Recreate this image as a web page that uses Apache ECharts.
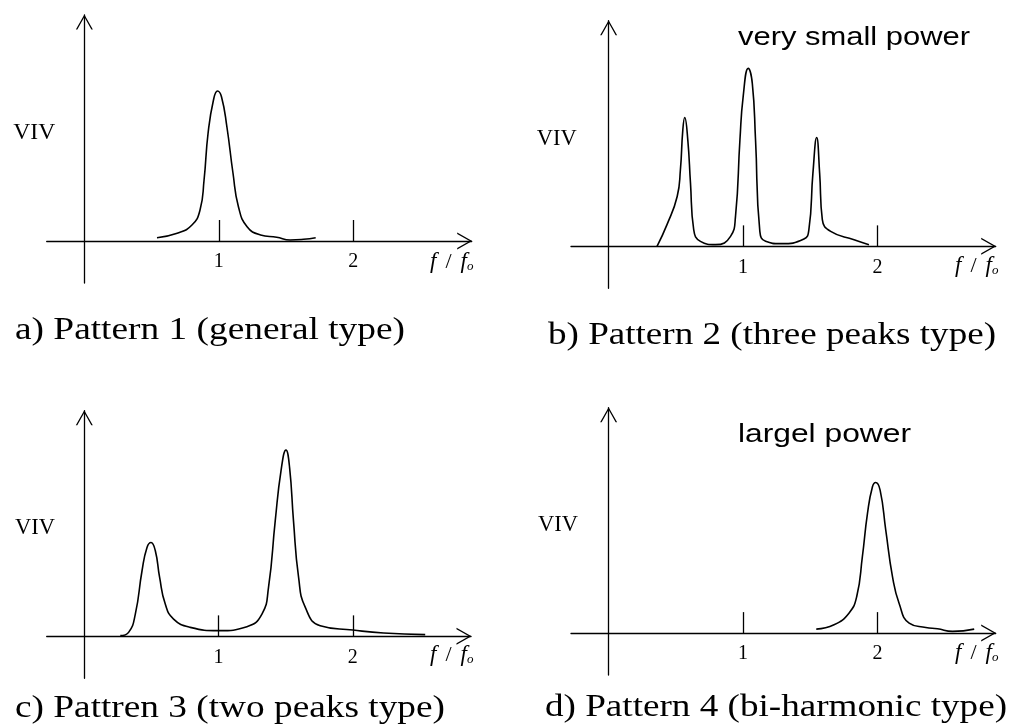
<!DOCTYPE html>
<html>
<head>
<meta charset="utf-8">
<script src="https://cdn.jsdelivr.net/npm/echarts@6/dist/echarts.min.js"></script>
<style>
  html, body { margin: 0; padding: 0; background: #fff; }
  #chart { width: 1011px; height: 726px; }
</style>
</head>
<body>
<div id="chart"></div>
<script>
// f/fo ticks shown on every panel
var tickValues = [1, 2];

// a) Pattern 1 (general type)
var fRatioA = [0.54, 0.69, 0.80, 0.86, 0.89, 0.92, 0.96, 0.99, 1.02, 1.06, 1.105, 1.146, 1.21, 1.31, 1.43, 1.53, 1.63, 1.72];
var vivA = [0.33, 0.77, 1.6, 3.1, 6.1, 10.8, 14.1, 15.0, 14.4, 11.4, 6.8, 3.4, 1.43, 0.6, 0.37, 0.1, 0.17, 0.33];

// b) Pattern 2 (three peaks type)
var fRatioB = [0.36, 0.435, 0.51, 0.534, 0.552, 0.566, 0.589, 0.609, 0.633, 0.683, 0.795, 0.907, 0.944, 0.977, 1.001, 1.039, 1.069, 1.093, 1.125, 1.168, 1.28, 1.453, 1.49, 1.52, 1.548, 1.57, 1.59, 1.652, 1.826, 1.937];
var vivB = [0, 2.2, 5.0, 7.67, 11.67, 12.9, 10.67, 6.33, 1.67, 0.5, 0.17, 1.0, 3.0, 10.67, 15.0, 17.83, 16.33, 10.67, 1.5, 0.5, 0.27, 0.73, 1.67, 7.33, 10.9, 7.33, 2.67, 1.5, 0.67, 0.17];

// c) Pattren 3 (two peaks type)
var fRatioC = [0.268, 0.33, 0.38, 0.43, 0.467, 0.497, 0.529, 0.561, 0.603, 0.665, 0.789, 1.0, 1.211, 1.323, 1.372, 1.422, 1.465, 1.502, 1.529, 1.558, 1.596, 1.646, 1.757, 2.0, 2.229, 2.539];
var vivC = [0.07, 0.4, 2.23, 6.57, 8.9, 9.4, 8.57, 5.9, 3.23, 1.73, 0.9, 0.57, 0.97, 2.23, 4.9, 11.57, 16.57, 18.67, 16.9, 11.57, 5.9, 2.9, 1.07, 0.64, 0.33, 0.17];

// d) Pattern 4 (bi-harmonic type)
var fRatioD = [1.545, 1.677, 1.788, 1.846, 1.888, 1.926, 1.963, 1.987, 2.02, 2.062, 2.112, 2.161, 2.236, 2.36, 2.447, 2.559, 2.72];
var vivD = [0.4, 0.83, 2.0, 3.67, 7.67, 12.0, 14.67, 15.1, 14.33, 10.33, 5.67, 3.0, 1.0, 0.57, 0.43, 0.17, 0.4];

var captions = ['a) Pattern 1 (general type)', 'b) Pattern 2 (three peaks type)', 'c) Pattren 3 (two peaks type)', 'd) Pattern 4 (bi-harmonic type)'];
var notes = ['', 'very small power', '', 'largel power'];

var SERIF = "'Liberation Serif', 'Times New Roman', serif";
var SANS = "'Liberation Sans', Arial, sans-serif";

var panels = [
  { f: fRatioA, v: vivA, grid: { left: 46.7, top: 15, width: 425, height: 268 } },
  { f: fRatioB, v: vivB, grid: { left: 571, top: 20.7, width: 424.7, height: 267.6 } },
  { f: fRatioC, v: vivC, grid: { left: 46.7, top: 410.7, width: 424.3, height: 267.6 } },
  { f: fRatioD, v: vivD, grid: { left: 571, top: 407.7, width: 424.7, height: 267.3 } }
];

// open chevron arrow head, pointing up
var chevron = 'path://M0,150 L85,0 L170,150 L155,150 L85,26 L15,150 Z';

var measureCtx = document.createElement('canvas').getContext('2d');
function fitScale(text, size, family, target) {
  measureCtx.font = size + 'px ' + family;
  return target / measureCtx.measureText(text).width;
}

function textEl(text, x, y, size, family, targetWidth) {
  return {
    type: 'text',
    x: x,
    y: y,
    scaleX: targetWidth ? fitScale(text, size, family, targetWidth) : 1,
    style: {
      text: text,
      fontSize: size,
      fontFamily: family,
      fill: '#000',
      align: 'left',
      verticalAlign: 'middle'
    },
    silent: true
  };
}

var chart = echarts.init(document.getElementById('chart'), null, { renderer: 'canvas' });

var grids = [], xAxes = [], yAxes = [], series = [];
panels.forEach(function (p, i) {
  grids.push(p.grid);
  xAxes.push({
    type: 'value',
    gridIndex: i,
    min: -0.28,
    max: 2.88,
    splitLine: { show: false },
    axisLine: {
      onZero: true,
      symbol: ['none', chevron],
      symbolSize: [17, 15],
      symbolOffset: [0, -7],
      lineStyle: { color: '#000', width: 1.3 }
    },
    axisTick: {
      show: true,
      inside: true,
      length: 21,
      customValues: tickValues,
      lineStyle: { color: '#000', width: 1.3 }
    },
    axisLabel: {
      customValues: tickValues,
      color: '#000',
      fontFamily: SERIF,
      fontSize: 20,
      margin: -31
    }
  });
  yAxes.push({
    type: 'value',
    gridIndex: i,
    min: -4.2,
    max: 22.6,
    splitLine: { show: false },
    axisTick: { show: false },
    axisLabel: { show: false },
    axisLine: {
      onZero: true,
      symbol: ['none', chevron],
      symbolSize: [17, 15],
      symbolOffset: [0, -7],
      lineStyle: { color: '#000', width: 1.3 }
    }
  });
  series.push({
    type: 'line',
    xAxisIndex: i,
    yAxisIndex: i,
    data: p.f.map(function (x, k) { return [x, p.v[k]]; }),
    showSymbol: false,
    smooth: 0.5,
    lineStyle: { color: '#000', width: 1.6 },
    silent: true
  });
});

var fLabel = function (x, y) {
  return {
    type: 'text',
    x: x,
    y: y,
    style: {
      text: '{i|f}{s|/}{i|f}{o|o}',
      fill: '#000',
      align: 'left',
      verticalAlign: 'middle',
      rich: {
        i: { fontFamily: SERIF, fontStyle: 'italic', fontSize: 23 },
        s: { fontFamily: SERIF, fontSize: 22, padding: [0, 9, 0, 9] },
        o: { fontFamily: SERIF, fontStyle: 'italic', fontSize: 13, padding: [10, 0, 0, 0] }
      }
    },
    silent: true
  };
};

var graphics = [
  textEl('VIV', 13.3, 133, 24, SERIF, 42),
  textEl('VIV', 536.7, 139, 24, SERIF, 40),
  textEl('VIV', 15, 528, 24, SERIF, 40),
  textEl('VIV', 538, 525, 24, SERIF, 40),
  fLabel(430, 262),
  fLabel(955, 266),
  fLabel(430, 655),
  fLabel(955, 653),
  textEl(notes[1], 738, 38, 26, SANS, 232),
  textEl(notes[3], 738, 435, 26, SANS, 173),
  textEl(captions[0], 15, 331, 32, SERIF, 390),
  textEl(captions[1], 548, 336, 32, SERIF, 448),
  textEl(captions[2], 15, 709, 32, SERIF, 430),
  textEl(captions[3], 545, 708, 32, SERIF, 462)
];

chart.setOption({
  animation: false,
  backgroundColor: '#fff',
  grid: grids,
  xAxis: xAxes,
  yAxis: yAxes,
  series: series,
  graphic: graphics
});
</script>
</body>
</html>
